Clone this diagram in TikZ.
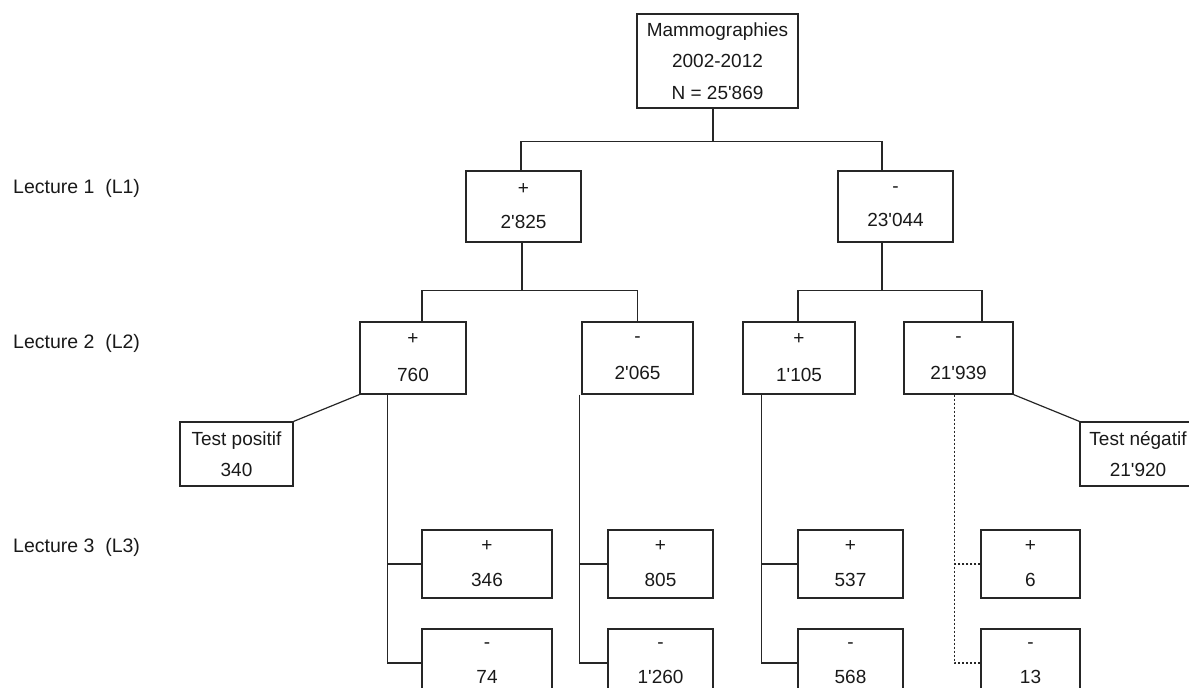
\documentclass[tikz,border=0pt]{standalone}
\usepackage{fontspec}
\setmainfont{Liberation Sans}[Ligatures=TeXOff]
\begin{document}
\begin{tikzpicture}[x=1pt,y=-1pt,
  box/.style={draw=black!85, line width=1.2pt, inner sep=0pt, align=center, text=black!90},
  topbox/.style={box, minimum width=161, minimum height=94, font=\fontsize{19}{31.5}\selectfont},
  lonebox/.style={box, minimum width=115, minimum height=71, font=\fontsize{19}{34}\selectfont},
  ltwobox/.style={box, minimum height=72, font=\fontsize{19}{37}\selectfont},
  lthreebox/.style={box, minimum height=68, font=\fontsize{19}{35}\selectfont},
  testbox/.style={box, minimum height=64, font=\fontsize{19}{31}\selectfont},
  lbl/.style={anchor=west, inner sep=0pt, font=\fontsize{19.5}{22}\selectfont, text=black!90},
  conn/.style={draw=black!85, line width=1.2pt},
  dotconn/.style={conn, dash pattern=on 2pt off 2pt}
]
\useasboundingbox (0,0) rectangle (1189,688);

% row labels
\node[lbl] (r1) at (13,188) {Lecture 1\ \ (L1)};
\node[lbl] (r2) at (13,343) {Lecture 2\ \ (L2)};
\node[lbl] (r3) at (13,547) {Lecture 3\ \ (L3)};

% top
\node[topbox] (top) at (717.5,61) {Mammographies\\2002-2012\\N = 25'869};

% level 1
\node[lonebox] (l1a) at (523.5,206.5) {+\\2'825};
\node[lonebox] (l1b) at (895.5,206.5) {-\\23'044};

% level 2
\node[ltwobox, minimum width=106] (l2a) at (413,358) {+\\760};
\node[ltwobox, minimum width=111] (l2b) at (637.5,358) {-\\2'065};
\node[ltwobox, minimum width=112] (l2c) at (799,358) {+\\1'105};
\node[ltwobox, minimum width=109] (l2d) at (958.5,358) {-\\21'939};

% tests
\node[testbox, minimum width=113] (tp) at (236.5,454) {Test positif\\340};
\node[testbox, minimum width=116] (tn) at (1138,454) {Test négatif\\21'920};

% level 3
\node[lthreebox, minimum width=130] (l3a) at (487,564) {+\\346};
\node[lthreebox, minimum width=130] (l3b) at (487,663) {-\\74};
\node[lthreebox, minimum width=105] (l3c) at (660.5,564) {+\\805};
\node[lthreebox, minimum width=105] (l3d) at (660.5,663) {-\\1'260};
\node[lthreebox, minimum width=105] (l3e) at (850.5,564) {+\\537};
\node[lthreebox, minimum width=105] (l3f) at (850.5,663) {-\\568};
\node[lthreebox, minimum width=99] (l3g) at (1030.5,564) {+\\6};
\node[lthreebox, minimum width=99] (l3h) at (1030.5,663) {-\\13};

% top -> level 1
\draw[conn] ([xshift=-4.5]top.south) -- ++(0,33) coordinate (j0);
\draw[conn] (j0) -| ([xshift=-2.5]l1a.north);
\draw[conn] (j0) -| ([xshift=-13.5]l1b.north);

% level 1 -> level 2
\draw[conn] ([xshift=-1.5]l1a.south) -- ++(0,48) coordinate (j1);
\draw[conn] (j1) -| ([xshift=9]l2a.north);
\draw[conn] (j1) -| (l2b.north);
\draw[conn] ([xshift=-13.5]l1b.south) -- ++(0,48) coordinate (j2);
\draw[conn] (j2) -| ([xshift=-1]l2c.north);
\draw[conn] (j2) -| ([xshift=23.5]l2d.north);

% tests
\draw[conn] (l2a.south west) -- (tp.north east);
\draw[conn] (l2d.south east) -- (tn.north west);

% level 2 -> level 3
\draw[conn] ([xshift=28]l2a.south west) coordinate (s1) |- (l3b.west);
\draw[conn] (l3a.west) -- (l3a.west -| s1);
\draw[conn] ([xshift=-2]l2b.south west) coordinate (s2) |- (l3d.west);
\draw[conn] (l3c.west) -- (l3c.west -| s2);
\draw[conn] ([xshift=19]l2c.south west) coordinate (s3) |- (l3f.west);
\draw[conn] (l3e.west) -- (l3e.west -| s3);
\draw[dotconn] ([xshift=51]l2d.south west) coordinate (s4) |- (l3h.west);
\draw[dotconn] (l3g.west) -- (l3g.west -| s4);
\end{tikzpicture}
\end{document}
